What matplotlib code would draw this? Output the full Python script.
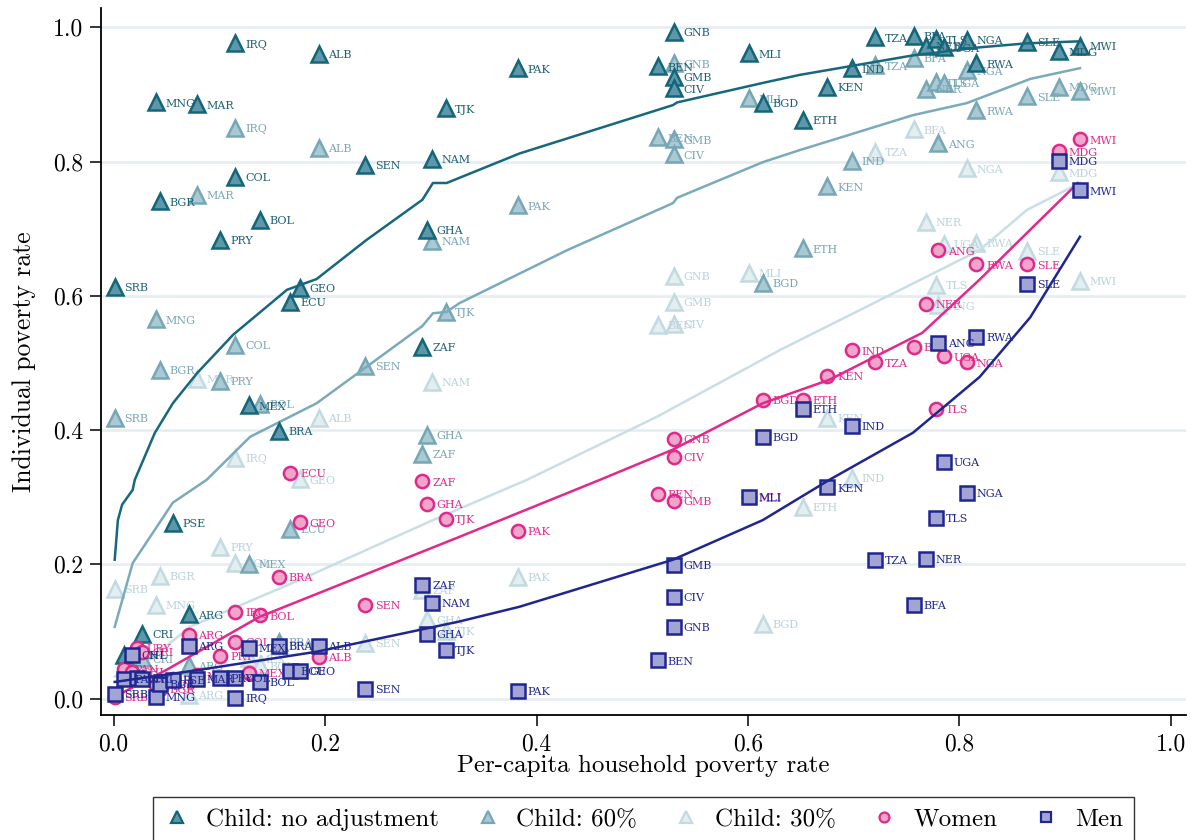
import numpy as np
import matplotlib
matplotlib.use('Agg')
import matplotlib.pyplot as plt
from matplotlib.lines import Line2D

plt.rcParams['font.family'] = ['cmr10', 'DejaVu Serif']
plt.rcParams['axes.formatter.use_mathtext'] = True
plt.rcParams['mathtext.fontset'] = 'cm'

nan = np.nan

# countries and per-capita household poverty rate
countries = ['SRB', 'PAN', 'CHL', 'URY', 'CRI', 'MNG', 'BGR', 'PSE', 'ARG', 'MAR',
             'PRY', 'IRQ', 'COL', 'MEX', 'BOL', 'BRA', 'ECU', 'GEO', 'ALB', 'SEN',
             'ZAF', 'GHA', 'NAM', 'TJK', 'PAK', 'BEN', 'GNB', 'GMB', 'CIV', 'MLI',
             'BGD', 'ETH', 'KEN', 'IND', 'TZA', 'BFA', 'NER', 'TLS', 'ANG', 'UGA',
             'NGA', 'RWA', 'SLE', 'MDG', 'MWI']
hh_rate = [0.001, 0.010, 0.017, 0.022, 0.027, 0.040, 0.044, 0.056, 0.071, 0.079,
           0.101, 0.115, 0.115, 0.128, 0.138, 0.156, 0.167, 0.176, 0.194, 0.238,
           0.292, 0.296, 0.301, 0.314, 0.382, 0.515, 0.530, 0.530, 0.530, 0.601,
           0.614, 0.652, 0.675, 0.698, 0.720, 0.757, 0.768, 0.778, 0.780, 0.785,
           0.807, 0.816, 0.864, 0.894, 0.914]

child_noadj = [0.613, 0.065, nan, nan, 0.097, 0.888, 0.741, 0.262, 0.126, 0.885,
               0.683, 0.976, 0.777, 0.437, 0.713, 0.399, 0.591, 0.612, 0.960, 0.795,
               0.524, 0.698, 0.804, 0.879, 0.939, 0.942, 0.993, 0.926, 0.909, 0.961,
               0.887, 0.862, 0.911, 0.939, 0.985, 0.987, 0.972, 0.982, nan, 0.970,
               0.981, 0.946, 0.978, 0.964, 0.972]
child_60 = [0.418, nan, nan, nan, 0.060, 0.565, 0.490, nan, 0.050, 0.750,
            0.473, 0.850, 0.527, 0.201, 0.439, 0.085, 0.253, nan, 0.820, 0.496,
            0.365, 0.393, 0.682, 0.576, 0.735, 0.836, 0.946, 0.833, 0.811, 0.894,
            0.619, 0.671, 0.763, 0.801, 0.943, 0.954, 0.908, 0.918, 0.827, 0.917,
            0.936, 0.876, 0.897, 0.911, 0.905]
child_30 = [0.164, nan, nan, nan, nan, 0.140, 0.183, nan, 0.006, 0.476,
            0.226, 0.359, 0.202, 0.060, 0.050, 0.080, nan, 0.327, 0.418, 0.083,
            0.162, 0.118, 0.472, 0.101, 0.182, 0.557, 0.630, 0.591, 0.558, 0.634,
            0.112, 0.286, 0.418, 0.329, 0.814, 0.848, 0.710, 0.616, 0.586, 0.677,
            0.790, 0.679, 0.667, 0.784, 0.622]
women = [0.003, 0.045, 0.040, 0.076, 0.070, 0.020, 0.015, 0.030, 0.095, 0.035,
         0.064, 0.129, 0.085, 0.039, 0.124, 0.182, 0.336, 0.263, 0.062, 0.140,
         0.324, 0.290, nan, 0.268, 0.250, 0.305, 0.387, 0.295, 0.360, 0.300,
         0.445, 0.445, 0.481, 0.519, 0.501, 0.524, 0.588, 0.432, 0.668, 0.510,
         0.501, 0.647, 0.647, 0.815, 0.833]
men = [0.007, 0.030, 0.065, 0.031, 0.030, 0.003, 0.022, 0.028, 0.079, 0.030,
       0.031, 0.001, 0.031, 0.076, 0.025, 0.079, 0.042, 0.042, 0.079, 0.015,
       0.170, 0.097, 0.143, 0.073, 0.012, 0.057, 0.107, 0.199, 0.152, 0.301,
       0.390, 0.432, 0.315, 0.406, 0.207, 0.140, 0.208, 0.269, 0.530, 0.353,
       0.307, 0.539, 0.618, 0.801, 0.757]

# fitted curves
fit_noadj_x = [0.001, 0.004, 0.008, 0.018, 0.020, 0.039, 0.056, 0.079, 0.113, 0.164,
               0.192, 0.239, 0.292, 0.302, 0.315, 0.384, 0.529, 0.533, 0.614, 0.649,
               0.756, 0.819, 0.864, 0.914]
fit_noadj_y = [0.207, 0.266, 0.289, 0.311, 0.326, 0.396, 0.440, 0.485, 0.542, 0.609,
               0.625, 0.683, 0.743, 0.768, 0.768, 0.812, 0.884, 0.888, 0.917, 0.929,
               0.958, 0.970, 0.976, 0.979]
fit_60_x = [0.001, 0.018, 0.056, 0.088, 0.129, 0.192, 0.239, 0.292, 0.302, 0.315,
            0.327, 0.429, 0.529, 0.533, 0.614, 0.649, 0.756, 0.807, 0.867, 0.914]
fit_60_y = [0.107, 0.202, 0.292, 0.326, 0.390, 0.440, 0.494, 0.555, 0.574, 0.576,
            0.589, 0.668, 0.738, 0.746, 0.799, 0.817, 0.869, 0.887, 0.923, 0.939]
fit_30_x = [0.001, 0.034, 0.072, 0.176, 0.302, 0.391, 0.514, 0.630, 0.819, 0.864, 0.914]
fit_30_y = [0.033, 0.058, 0.107, 0.177, 0.266, 0.326, 0.420, 0.519, 0.668, 0.728, 0.768]
fit_women_x = [0.001, 0.050, 0.138, 0.327, 0.460, 0.529, 0.614, 0.677, 0.765, 0.819,
               0.857, 0.912]
fit_women_y = [0.003, 0.043, 0.122, 0.241, 0.326, 0.371, 0.440, 0.475, 0.545, 0.624,
               0.683, 0.768]
fit_men_x = [0.001, 0.081, 0.192, 0.327, 0.384, 0.529, 0.614, 0.677, 0.756, 0.819,
             0.867, 0.914]
fit_men_y = [0.025, 0.043, 0.070, 0.115, 0.137, 0.207, 0.266, 0.326, 0.396, 0.479,
             0.568, 0.688]

x = np.array(hh_rate)

# name, y, fit x, fit y, marker, size, face, edge, line colour, text colour
series = [
    ('Child: 30%', child_30, fit_30_x, fit_30_y, '^', 11, '#e3eef1', '#c2dae1', '#c8dfe5', '#b9d3da'),
    ('Child: 60%', child_60, fit_60_x, fit_60_y, '^', 11, '#a9c9d3', '#77a6b6', '#7aaabb', '#7aa6b5'),
    ('Child: no adjustment', child_noadj, fit_noadj_x, fit_noadj_y, '^', 11, '#5d98aa', '#14657a', '#17687d', '#1d5f72'),
    ('Women', women, fit_women_x, fit_women_y, 'o', 9.5, '#f0a6cb', '#df2a8b', '#e3288b', '#df2a8b'),
    ('Men', men, fit_men_x, fit_men_y, 's', 9.5, '#a2a5d3', '#1f2690', '#1f2690', '#1f2690'),
]

fig = plt.figure(figsize=(11.92, 8.4), dpi=100)
ax = fig.add_axes([0.0847, 0.149, 0.91, 0.841])

for k in np.arange(0, 1.01, 0.2):
    ax.axhline(k, color='#e7eef2', lw=2, zorder=0)

handles = {}
for i, (name, yv, fx, fy, mk, ms, fc, ec, lc, tc) in enumerate(series):
    y = np.array(yv)
    m = ~np.isnan(y)
    ax.plot(x[m], y[m], ls='none', marker=mk, ms=ms, mfc=fc, mec=ec, mew=1.8, zorder=2 + i)
    for c, xx, yy in zip(np.array(countries)[m], x[m], y[m]):
        ax.annotate(c, (xx, yy), xytext=(7, -1), textcoords='offset points', va='center',
                    ha='left', fontsize=8, color=tc, family='DejaVu Serif', zorder=2 + i)
    ax.plot(fx, fy, color=lc, lw=1.8, zorder=2 + i)
    handles[name] = Line2D([], [], ls='none', marker=mk, ms=ms * 0.75, mfc=fc, mec=ec, mew=1.6)

ax.set_xlim(-0.012, 1.014)
ax.set_ylim(-0.024, 1.028)
ax.set_xticks(np.arange(0, 1.01, 0.2))
ax.set_yticks(np.arange(0, 1.01, 0.2))
ax.set_xticklabels(['%.1f' % v for v in np.arange(0, 1.01, 0.2)])
ax.set_yticklabels(['%.1f' % v for v in np.arange(0, 1.01, 0.2)])
ax.tick_params(direction='out', length=8, width=1.1, labelsize=17, pad=5)
for s in ['top', 'right']:
    ax.spines[s].set_visible(False)
for s in ['left', 'bottom']:
    ax.spines[s].set_linewidth(1.3)

ax.set_xlabel('Per-capita household poverty rate', fontsize=18, labelpad=0)
ax.set_ylabel('Individual poverty rate', fontsize=18.5, labelpad=12)

order = ['Child: no adjustment', 'Child: 60%', 'Child: 30%', 'Women', 'Men']
leg = fig.legend([handles[o] for o in order], order, loc='upper center',
                 bbox_to_anchor=(0.54, 0.0512), ncol=5, fontsize=18, frameon=True,
                 fancybox=False, edgecolor='black', handlelength=1.0,
                 handletextpad=0.65, columnspacing=1.45, borderpad=0.45,
                 borderaxespad=0)
leg.get_frame().set_linewidth(1.0)

fig.savefig('out.png', dpi=100)
